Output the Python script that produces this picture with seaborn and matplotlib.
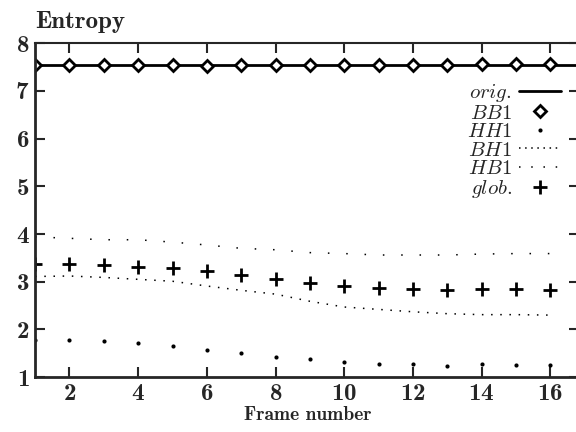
import matplotlib
matplotlib.use('Agg')
import matplotlib.pyplot as plt
from matplotlib.lines import Line2D
import seaborn as sns

# values
frames = list(range(1, 17))
orig = 7.54
bb1 = [7.54, 7.54, 7.54, 7.54, 7.54, 7.53, 7.54, 7.54, 7.54, 7.54, 7.55, 7.55, 7.55, 7.56, 7.56, 7.56]
hh1 = [1.77, 1.77, 1.76, 1.72, 1.65, 1.56, 1.51, 1.42, 1.37, 1.32, 1.27, 1.27, 1.23, 1.27, 1.25, 1.25]
bh1 = [3.11, 3.12, 3.09, 3.05, 3.01, 2.91, 2.82, 2.74, 2.59, 2.47, 2.42, 2.37, 2.33, 2.31, 2.31, 2.30]
hb1 = [3.94, 3.91, 3.88, 3.88, 3.83, 3.77, 3.70, 3.67, 3.61, 3.59, 3.56, 3.56, 3.56, 3.58, 3.59, 3.59]
glob = [3.38, 3.38, 3.36, 3.31, 3.29, 3.22, 3.14, 3.05, 2.98, 2.91, 2.87, 2.84, 2.82, 2.84, 2.84, 2.82]

xticks = [2, 4, 6, 8, 10, 12, 14, 16]
yticks = [1, 2, 3, 4, 5, 6, 7, 8]

sns.set_style('ticks')
plt.rcParams['font.family'] = ['cmb10']
plt.rcParams['mathtext.fontset'] = 'cm'
plt.rcParams['axes.formatter.use_mathtext'] = True

fig = plt.figure(figsize=(5.76, 4.32), dpi=100)
ax = fig.add_axes([0.061, 0.127, 0.945, 0.773])

ax.axhline(orig, color='black', linewidth=2)
sns.lineplot(x=frames, y=bb1, ax=ax, color='black', linestyle='', marker='D',
             markersize=6, markerfacecolor='white', markeredgecolor='black', markeredgewidth=2)
sns.lineplot(x=frames, y=hh1, ax=ax, color='black', linestyle='', marker='o',
             markersize=3, markeredgewidth=0)
sns.lineplot(x=frames, y=bh1, ax=ax, color='black', linewidth=1.1, linestyle=(0, (1, 5)))
sns.lineplot(x=frames, y=hb1, ax=ax, color='black', linewidth=1.1, linestyle=(0, (1, 11)))
sns.lineplot(x=frames, y=glob, ax=ax, color='black', linestyle='', marker='+',
             markersize=10, markeredgecolor='black', markeredgewidth=2)

ax.set_xlim(1, 16.85)
ax.set_ylim(1, 8)
ax.set_xticks(xticks)
ax.set_yticks(yticks)
ax.tick_params(direction='in', length=7, width=1.5, top=True, right=True,
               labelsize=18, pad=4)
for side in ['left', 'bottom']:
    ax.spines[side].set_linewidth(2)
for side in ['top', 'right']:
    ax.spines[side].set_linewidth(1.5)

ax.set_xlabel('Frame number', fontsize=14, labelpad=1)
ax.set_title('Entropy', loc='left', fontsize=18, pad=11)

handles = [
    Line2D([], [], color='black', linewidth=2),
    Line2D([], [], color='black', linestyle='', marker='D', markersize=6,
           markerfacecolor='white', markeredgewidth=2),
    Line2D([], [], color='black', linestyle='', marker='o', markersize=3, markeredgewidth=0),
    Line2D([], [], color='black', linewidth=1.1, linestyle=(0, (1, 3))),
    Line2D([], [], color='black', linewidth=1.1, linestyle=(0, (1, 7))),
    Line2D([], [], color='black', linestyle='', marker='+', markersize=10, markeredgewidth=2),
]
labels = [r'$orig.$', r'$BB1$', r'$HH1$', r'$BH1$', r'$HB1$', r'$glob.$']
ax.legend(handles, labels, loc='upper right', bbox_to_anchor=(0.985, 0.915),
          frameon=False, markerfirst=False, fontsize=15, handlelength=2.0,
          handletextpad=0.35, labelspacing=-0.02, borderpad=0)

fig.savefig('out.png', dpi=100)
